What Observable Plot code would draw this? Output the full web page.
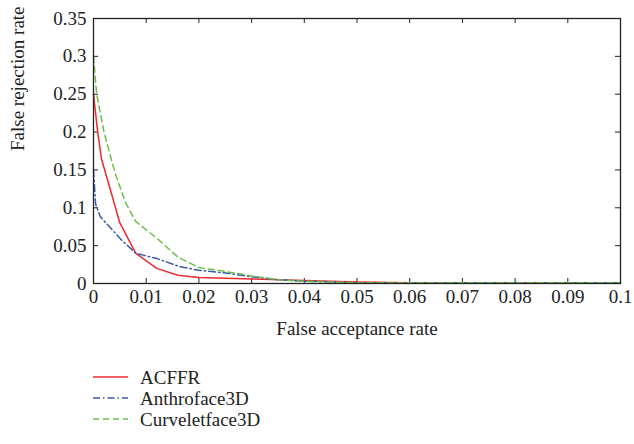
<!DOCTYPE html>
<html>
<head>
<meta charset="utf-8">
<script src="https://cdn.jsdelivr.net/npm/d3@7"></script>
<script src="https://cdn.jsdelivr.net/npm/@observablehq/plot@0.6"></script>
<style>
  body { margin: 0; background: #fff; }
  #wrap { width: 634px; height: 444px; position: relative; }
  #wrap svg text, #wrap svg { font-family: "Liberation Serif", "Times New Roman", serif !important; }
</style>
</head>
<body>
<div id="wrap"></div>
<script>
// ---- data ----
const xTicks = [0, 0.01, 0.02, 0.03, 0.04, 0.05, 0.06, 0.07, 0.08, 0.09, 0.1];
const yTicks = [0, 0.05, 0.1, 0.15, 0.2, 0.25, 0.3, 0.35];

const seriesNames = ["ACFFR", "Anthroface3D", "Curveletface3D"];

const acffrX = [0, 0.0008, 0.0015, 0.005, 0.008, 0.012, 0.016, 0.02, 0.03, 0.04, 0.05, 0.06, 0.1];
const acffrY = [0.25, 0.2, 0.165, 0.08, 0.04, 0.02, 0.011, 0.008, 0.006, 0.004, 0.002, 0.001, 0.001];

const anthroX = [0, 0.0004, 0.0013, 0.0054, 0.008, 0.012, 0.0165, 0.02, 0.025, 0.03, 0.035, 0.04, 0.05, 0.1];
const anthroY = [0.15, 0.105, 0.088, 0.057, 0.04, 0.033, 0.022, 0.0175, 0.014, 0.009, 0.005, 0.003, 0.001, 0.001];

const curveX = [0, 0.0006, 0.002, 0.004, 0.006, 0.008, 0.012, 0.016, 0.02, 0.025, 0.03, 0.035, 0.04, 0.05, 0.1];
const curveY = [0.3, 0.25, 0.2, 0.148, 0.108, 0.082, 0.06, 0.035, 0.021, 0.016, 0.01, 0.005, 0.003, 0.001, 0.001];

const colors = ["#ee2a2f", "#3b5ba8", "#6cbf4a"];
const dashes = [null, "7,3,1.5,3", "6,4"];

// ---- build ----
const toRows = (xs, ys) => xs.map((x, i) => ({x, y: ys[i]}));
const data = [toRows(acffrX, acffrY), toRows(anthroX, anthroY), toRows(curveX, curveY)];

const FS = 19;
const FONT = '"Liberation Serif", "Times New Roman", serif';
const W = 634, H = 350, mL = 93, mR = 14, mT = 18, mB = 67;
const fw = W - mL - mR, fh = H - mT - mB;

const chart = Plot.plot({
  width: W, height: H,
  marginLeft: mL, marginRight: mR, marginTop: mT, marginBottom: mB,
  x: {domain: [0, 0.1]},
  y: {domain: [0, 0.35]},
  style: {fontFamily: FONT, fontSize: FS + "px", color: "#222", background: "#fff"},
  marks: [
    Plot.axisX(xTicks, {tickSize: 0, tickPadding: 6, tickFormat: d => String(d), label: null, fontSize: FS}),
    Plot.axisY(yTicks, {tickSize: 0, tickPadding: 7, tickFormat: d => String(d), label: null, fontSize: FS}),
    Plot.tickX(xTicks, {x: d => d, insetTop: fh - 5, stroke: "#222"}),
    Plot.tickX(xTicks, {x: d => d, insetBottom: fh - 5, stroke: "#222"}),
    Plot.tickY(yTicks, {y: d => d, insetRight: fw - 5, stroke: "#222"}),
    Plot.tickY(yTicks, {y: d => d, insetLeft: fw - 5, stroke: "#222"}),
    ...data.map((rows, i) => Plot.line(rows, {x: "x", y: "y", stroke: colors[i], strokeWidth: 1.5, strokeDasharray: dashes[i]})),
    Plot.frame({stroke: "#222", strokeWidth: 1.3}),
    Plot.text(["False acceptance rate"], {frameAnchor: "bottom", dy: 51, fill: "#222", fontSize: FS}),
    Plot.text(["False rejection rate"], {frameAnchor: "left", rotate: -90, dx: -76, fill: "#222", fontSize: FS})
  ]
});
document.getElementById("wrap").appendChild(chart);

// ---- legend ----
const ns = "http://www.w3.org/2000/svg";
const leg = document.createElementNS(ns, "svg");
leg.setAttribute("width", 634);
leg.setAttribute("height", 94);
leg.style.display = "block";
seriesNames.forEach((name, i) => {
  const cy = 27 + i * 21;
  const ln = document.createElementNS(ns, "line");
  ln.setAttribute("x1", 93); ln.setAttribute("x2", 128);
  ln.setAttribute("y1", cy); ln.setAttribute("y2", cy);
  ln.setAttribute("stroke", colors[i]);
  ln.setAttribute("stroke-width", 1.5);
  if (dashes[i]) ln.setAttribute("stroke-dasharray", dashes[i]);
  leg.appendChild(ln);
  const t = document.createElementNS(ns, "text");
  t.setAttribute("x", 140); t.setAttribute("y", cy);
  t.setAttribute("dy", "0.35em");
  t.setAttribute("font-size", FS);
  t.setAttribute("fill", "#222");
  t.textContent = name;
  leg.appendChild(t);
});
document.getElementById("wrap").appendChild(leg);
</script>
</body>
</html>
